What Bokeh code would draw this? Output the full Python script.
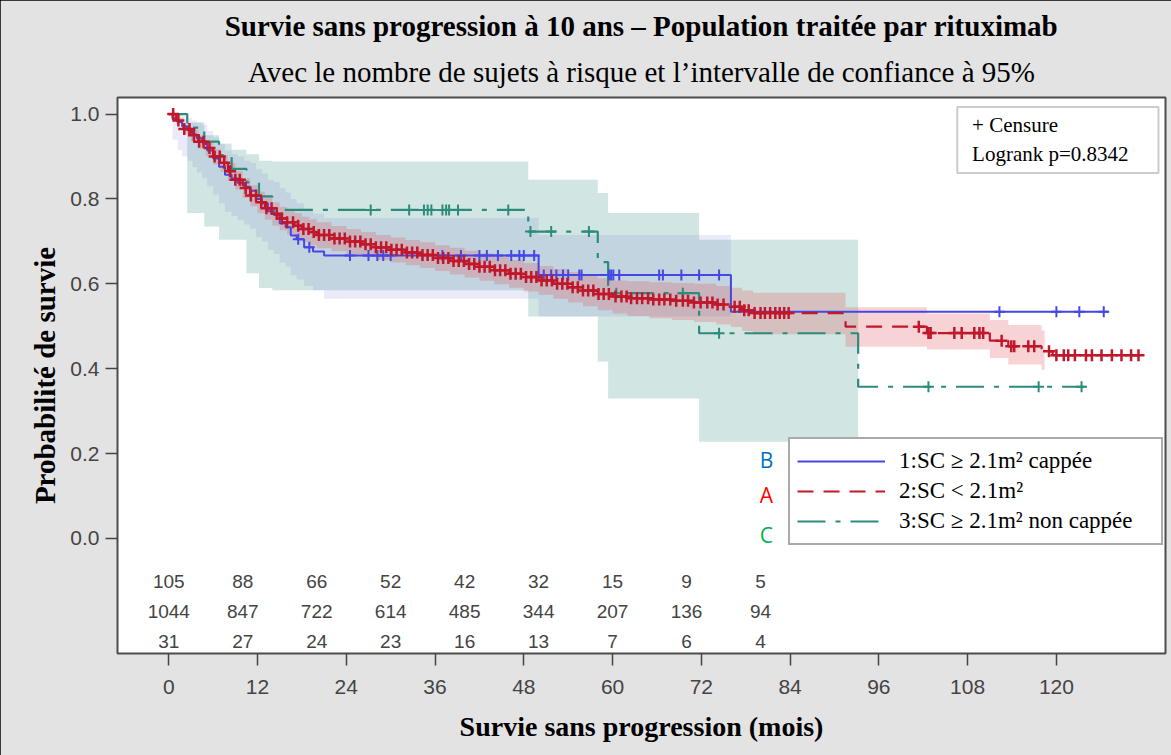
import numpy as np
from bokeh.plotting import figure
from bokeh.models import (Range1d, FixedTicker, Legend, LegendItem, Label, LabelSet,
                          ColumnDataSource, BoxAnnotation, Title)
from bokeh.core.properties import value
from bokeh.embed import file_html
from bokeh.resources import INLINE

# ---------------- data ----------------
title_main = "Survie sans progression à 10 ans – Population traitée par rituximab"
title_sub = "Avec le nombre de sujets à risque et l’intervalle de confiance à 95%"
x_label = "Survie sans progression (mois)"
y_label = "Probabilité de survie"

x_ticks = [0, 12, 24, 36, 48, 60, 72, 84, 96, 108, 120]
y_ticks = [0.0, 0.2, 0.4, 0.6, 0.8, 1.0]
y_tick_labels = ["0.0", "0.2", "0.4", "0.6", "0.8", "1.0"]

group_labels = ["1:SC ≥ 2.1m² cappée", "2:SC < 2.1m²", "3:SC ≥ 2.1m² non cappée"]
group_letters = ["B", "A", "C"]
censor_text = "+ Censure"
logrank_text = "Logrank p=0.8342"

# group 1 (blue) Kaplan-Meier
blue_t = [0, 0.5, 1.2, 1.8, 2.5, 3.2, 3.8, 4.5, 5.2, 6.0, 6.8, 7.6, 8.5, 9.3, 10.2,
          11.0, 11.8, 12.6, 13.4, 14.2, 15.0, 15.8, 16.5, 17.3, 18.3, 19.5, 21.0, 50.0, 76.0, 127.0]
blue_s = [1.0, .990, .981, .971, .962, .952, .943, .933, .914, .895, .876, .857, .848, .838, .829,
          .819, .800, .790, .771, .762, .743, .733, .714, .705, .686, .676, .667, .621, .534, .534]
blue_lo = [1.0, .94, .915, .90, .89, .875, .862, .85, .83, .81, .79, .77, .76, .75, .74,
           .73, .71, .70, .68, .67, .65, .64, .62, .61, .595, .585, .565, .523, .523]
blue_hi = [1.0, 1.0, 1.0, .995, .99, .985, .98, .975, .96, .945, .93, .915, .905, .90, .89,
           .885, .87, .86, .845, .84, .825, .815, .80, .79, .775, .765, .755, .715, .715]
blue_cens = [17.5, 19.0, 24.5, 27.0, 28.2, 29.0, 30.0, 37.0, 39.5, 42.0, 43.0, 44.5, 46.3, 47.4,
             48.0, 49.4, 50.7, 51.7, 52.4, 53.3, 54.0, 55.5, 55.8, 59.5, 59.8, 60.1, 60.9, 66.3,
             66.8, 69.3, 71.7, 74.4, 112.3, 120.0, 123.1, 126.4]

# group 2 (red) Kaplan-Meier
red_t = [0, 1, 2, 3, 4, 5, 6, 7, 8, 9, 10, 11, 12, 13, 14, 15, 16, 17, 18, 19, 20,
         22, 24, 26, 28, 30, 32, 34, 36, 38, 40, 42, 44, 46, 48, 50, 52, 54, 56, 58, 60,
         62, 65, 68, 71, 74, 76, 77.5, 79, 91.5, 102.5, 111, 113.5, 118, 119.5, 131.1]
red_s = [1.0, .985, .965, .950, .935, .920, .900, .885, .865, .845, .826, .808, .792, .778, .765,
         .754, .745, .737, .729, .722, .715,
         .707, .700, .693, .686, .680, .674, .668, .661, .654, .647, .640, .632, .624, .616, .608,
         .600, .592, .584, .576, .570,
         .566, .563, .560, .556, .551, .546, .538, .531, .499, .484, .466, .453, .441, .432, .432]
red_ci_end = 118.4
red_lo = [1.0, .977, .953, .936, .919, .902, .881, .864, .843, .822, .802, .783, .766, .751, .737,
          .726, .716, .707, .699, .691, .684,
          .677, .670, .663, .656, .650, .644, .637, .630, .622, .615, .607, .599, .591, .582, .574,
          .565, .556, .547, .538, .530,
          .524, .519, .515, .510, .504, .498, .489, .481, .452, .445, .425, .41, .397]
red_hi = [1.0, .991, .975, .962, .949, .936, .917, .903, .885, .866, .849, .832, .817, .804, .792,
          .781, .773, .766, .758, .752, .745,
          .736, .729, .722, .715, .709, .703, .698, .691, .685, .678, .672, .664, .656, .649, .642,
          .635, .628, .620, .613, .608,
          .606, .604, .602, .600, .595, .591, .584, .579, .545, .530, .515, .503, .490]
red_cens = [0.6, 1.3, 2.1, 2.8, 3.4, 4.1, 4.7, 5.5, 6.2, 6.9, 7.5, 8.3, 9.0, 9.6, 10.4, 11.1, 11.8,
            12.5, 13.2, 13.9, 14.6, 15.3, 16.0, 16.8, 17.5, 18.2, 18.9, 19.6, 20.3, 21.0, 21.7,
            22.4, 23.1, 23.8, 24.5, 25.2, 25.9, 26.6, 27.3, 28.0, 28.7, 29.4, 30.1, 30.8, 31.5,
            32.2, 32.9, 33.6, 34.3, 35.0, 35.7, 36.4, 37.1, 37.8, 38.5, 39.2, 39.9, 40.6, 41.3,
            42.0, 42.7, 43.4, 44.1, 44.8, 45.5, 46.2, 46.9, 47.6, 48.3, 49.0, 49.7, 50.4, 51.1,
            51.8, 52.5, 53.2, 53.9, 54.6, 55.3, 56.0, 56.7, 57.4, 58.1, 58.8, 59.5, 60.4, 61.2,
            61.9, 62.5, 63.3, 64.0, 64.8, 65.5, 66.3, 67.0, 67.8, 68.6, 69.5, 70.2, 71.0, 71.9,
            72.8, 73.5, 74.2, 75.0, 76.5, 77.2, 77.8, 78.4, 79.2, 80.0, 80.6, 81.3, 82.0, 82.6,
            83.2, 83.8, 101.4, 102.7, 103.0, 106.2, 107.2, 108.9, 109.6, 110.1, 112.6, 113.9,
            114.3, 116.2, 117.0, 119.0, 120.0, 121.0, 121.6, 122.5, 124.0, 124.8, 126.1, 127.5,
            128.8, 130.1, 131.1]

# group 3 (green) Kaplan-Meier
green_t = [0, 2.5, 4.8, 6.8, 8.5, 10.5, 12.2, 14.0, 48.6, 58.0, 59.4, 71.7, 93.2, 123.8]
green_s = [1.0, .968, .935, .903, .871, .839, .806, .774, .723, .651, .578, .4835, .3575, .3575]
green_lo = [1.0, .767, .735, .704, .704, .625, .59, .585, .523, .417, .33, .228, .228]
green_hi = [1.0, .98, .95, .93, .916, .905, .89, .888, .845, .814, .767, .704, .704]
green_cens = [27.3, 32.5, 34.5, 35.0, 35.5, 37.0, 37.5, 37.9, 39.1, 45.9, 48.9, 51.7, 56.8,
              60.5, 69.5, 74.4, 102.7, 117.6, 123.4]

# numbers at risk
risk_times = [0, 10, 20, 30, 40, 50, 60, 70, 80]
risk_1 = [105, 88, 66, 52, 42, 32, 15, 9, 5]
risk_2 = [1044, 847, 722, 614, 485, 344, 207, 136, 94]
risk_3 = [31, 27, 24, 23, 16, 13, 7, 6, 4]
risk_row_names = ["1", "2", "3"]
risk_row_y = [-0.102, -0.173, -0.243]

# ---------------- styling ----------------
BLUE = "#4646e4"
RED = "#c1172a"
GREEN = "#2c8b7b"
SERIF = "Liberation Serif"
SANS = "Liberation Sans"
GREY_TXT = "#444444"


def surv_at(times, surv, t):
    idx = np.searchsorted(np.asarray(times), np.asarray(t), side="right") - 1
    return np.asarray(surv)[idx]


def step_band(times, lo, hi):
    xs, y1, y2 = [], [], []
    for i in range(len(times) - 1):
        xs += [times[i], times[i + 1]]
        y1 += [lo[i], lo[i]]
        y2 += [hi[i], hi[i]]
    return xs, y1, y2


p = figure(width=1171, height=755, output_backend="svg", toolbar_location=None,
           x_range=Range1d(-6.93, 134.75), y_range=Range1d(-0.271, 1.039),
           min_border_left=117, min_border_right=6, min_border_top=97, min_border_bottom=102)
p.styles = {"outline": "2px solid black", "outline-offset": "-2px"}
p.border_fill_color = "#e3e3e3"
p.background_fill_color = "white"
p.outline_line_color = "#4d4d4d"
p.outline_line_width = 2
p.xgrid.visible = False
p.ygrid.visible = False

p.title.text = title_main
p.title.text_font = SERIF
p.title.text_font_size = "29px"
p.title.text_font_style = "bold"
p.title.text_color = "black"
p.title.align = "center"
p.title.standoff = 3
p.add_layout(Title(text=title_sub, text_font=SERIF, text_font_size="29px",
                   text_font_style="normal", text_color="black", align="center",
                   standoff=20), "above")

for ax in (p.xaxis, p.yaxis):
    ax.axis_line_color = None
    ax.major_tick_line_color = GREY_TXT
    ax.major_tick_line_width = 1.5
    ax.major_tick_out = 12
    ax.major_tick_in = 0
    ax.minor_tick_line_color = None
    ax.major_label_text_font = SANS
    ax.major_label_text_font_size = "21px"
    ax.major_label_text_color = GREY_TXT
    ax.axis_label_text_font = SERIF
    ax.axis_label_text_font_style = "bold"
    ax.axis_label_text_color = "black"

p.xaxis.ticker = FixedTicker(ticks=x_ticks)
p.yaxis.ticker = FixedTicker(ticks=y_ticks)
p.yaxis.major_label_overrides = {t: l for t, l in zip(y_ticks, y_tick_labels)}
p.xaxis.major_label_standoff = 14
p.yaxis.major_label_standoff = 6
p.xaxis.axis_label = x_label
p.yaxis.axis_label = y_label
p.xaxis.axis_label_text_font_size = "28px"
p.yaxis.axis_label_text_font_size = "29px"
p.xaxis.axis_label_standoff = 14
p.yaxis.axis_label_standoff = 6

# confidence bands
gx, gy1, gy2 = step_band(green_t[:13], green_lo, green_hi)
p.varea(x=gx, y1=gy1, y2=gy2, fill_color=GREEN, fill_alpha=0.22)
bx, by1, by2 = step_band(blue_t[:29], blue_lo, blue_hi)
p.varea(x=bx, y1=by1, y2=by2, fill_color="#5a5ad0", fill_alpha=0.13)
rx, ry1, ry2 = step_band(red_t[:54] + [red_ci_end], red_lo + [red_lo[-1]], red_hi + [red_hi[-1]])
p.varea(x=rx, y1=ry1, y2=ry2, fill_color="#e0484f", fill_alpha=0.24)

# survival curves
r_blue = p.step(blue_t, blue_s, mode="after", line_color=BLUE, line_width=2)
r_green = p.step(green_t, green_s, mode="after", line_color=GREEN, line_width=2.2,
                 line_dash="28 10 5 10")
r_red = p.step(red_t, red_s, mode="after", line_color=RED, line_width=2.2, line_dash="16 10")

# censor marks
p.scatter(blue_cens, surv_at(blue_t, blue_s, blue_cens), marker="cross", size=11,
          line_color=BLUE, line_width=2)
p.scatter(green_cens, surv_at(green_t, green_s, green_cens), marker="cross", size=11,
          line_color=GREEN, line_width=2)
p.scatter(red_cens, surv_at(red_t, red_s, red_cens), marker="cross", size=12,
          line_color=RED, line_width=2.5)

# numbers at risk
rows = [risk_1, risk_2, risk_3]
rx_all, ry_all, rt_all = [], [], []
for vals, yy in zip(rows, risk_row_y):
    rx_all += risk_times
    ry_all += [yy] * len(vals)
    rt_all += [str(v) for v in vals]
p.text(x=rx_all, y=ry_all, text=rt_all, text_align="center", text_baseline="middle",
       text_font=value(SANS), text_font_size="19px", text_color=GREY_TXT)

row_src = ColumnDataSource(dict(x=[p.x_range.start] * 3, y=risk_row_y, t=risk_row_names))
p.add_layout(LabelSet(x="x", y="y", text="t", source=row_src, x_offset=-6,
                      text_align="right", text_baseline="middle",
                      text_font=value(SANS), text_font_size="21px", text_color=GREY_TXT))

# legend
legend = Legend(items=[LegendItem(label=group_labels[0], renderers=[r_blue]),
                       LegendItem(label=group_labels[1], renderers=[r_red]),
                       LegendItem(label=group_labels[2], renderers=[r_green])],
                location=(671, 108), orientation="vertical",
                label_text_font=SERIF, label_text_font_size="23px", label_text_color="black",
                glyph_width=88, glyph_height=30, label_height=30, label_width=255,
                label_standoff=14, spacing=0, padding=7, margin=0,
                border_line_color="#555555", border_line_width=2,
                background_fill_color="white", background_fill_alpha=1)
p.add_layout(legend)

# letters next to legend
letter_colors = ["#0070c0", "#ff0000", "#00b050"]
letter_y = [0.1845, 0.102, 0.008]
for txt, col, yy in zip(group_letters, letter_colors, letter_y):
    p.add_layout(Label(x=80.8, y=yy, text=txt, text_color=col, text_font="Open Sans",
                       text_font_size="21px", text_align="center", text_baseline="middle"))

# censure / logrank box
p.add_layout(BoxAnnotation(left=106.6, right=133.8, top=1.0165, bottom=0.861,
                           fill_color="white", fill_alpha=1, line_color="#555555",
                           line_width=2))
p.add_layout(Label(x=108.6, y=0.975, text=censor_text, text_font=SERIF,
                   text_font_size="21px", text_baseline="middle", text_color="black"))
p.add_layout(Label(x=108.6, y=0.907, text=logrank_text, text_font=SERIF,
                   text_font_size="21px", text_baseline="middle", text_color="black"))

open("out.html", "w").write(file_html(p, INLINE))
